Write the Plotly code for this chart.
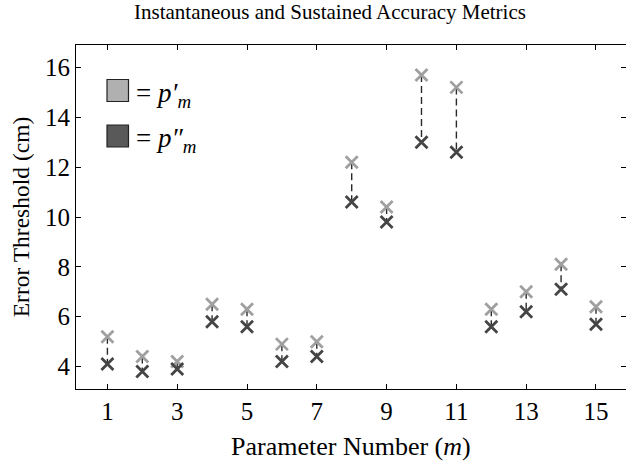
import plotly.graph_objects as go

m = list(range(1, 16))
p_prime = [5.2, 4.4, 4.2, 6.5, 6.3, 4.9, 5.0, 12.2, 10.4, 15.7, 15.2, 6.3, 7.0, 8.1, 6.4]
p_dprime = [4.1, 3.8, 3.9, 5.8, 5.6, 4.2, 4.4, 10.6, 9.8, 13.0, 12.6, 5.6, 6.2, 7.1, 5.7]
x_ticks = [1, 3, 5, 7, 9, 11, 13, 15]
y_ticks = [4, 6, 8, 10, 12, 14, 16]

LIGHT = "#a0a0a0"
DARK = "#454545"
FONT = "Liberation Serif"

# dashed connectors between the two metrics for each parameter
lx, ly = [], []
for xi, a, b in zip(m, p_prime, p_dprime):
    lx += [xi, xi, None]
    ly += [a, b, None]

fig = go.Figure()
fig.add_trace(go.Scatter(x=lx, y=ly, mode="lines",
                         line=dict(color="#2a2a2a", width=1.4, dash="7px,4px"),
                         showlegend=False, hoverinfo="skip"))
fig.add_trace(go.Scatter(x=m, y=p_prime, mode="markers", name="p'm",
                         marker=dict(symbol="x-thin", size=12, line=dict(color=LIGHT, width=2.8)),
                         showlegend=False))
fig.add_trace(go.Scatter(x=m, y=p_dprime, mode="markers", name="p''m",
                         marker=dict(symbol="x-thin", size=12, line=dict(color=DARK, width=2.8)),
                         showlegend=False))

# legend key (drawn as decoration)
L, T = 76, 45
W, H = 550, 461 - 72 - 45
def px(xp):
    return (xp - L) / W
def py(yp):
    return 1 - (yp - T) / H

for (y0, y1, col, txt) in [(79.5, 101.5, "#b0b0b0", "= <i>p′<sub>m</sub></i>"),
                           (125, 147, "#595959", "= <i>p″<sub>m</sub></i>")]:
    fig.add_shape(type="rect", xref="paper", yref="paper",
                  x0=px(107), x1=px(128.5), y0=py(y1), y1=py(y0),
                  fillcolor=col, line=dict(color="#222222", width=1.2))
    fig.add_annotation(xref="paper", yref="paper", x=px(134), y=py((y0 + y1) / 2 + 4),
                       xanchor="left", yanchor="middle", showarrow=False,
                       text=txt, font=dict(family=FONT, size=27, color="black"))

# x-axis title placed as annotation so it can sit right at the bottom edge
fig.add_annotation(xref="paper", yref="paper", x=px(351), y=py(446),
                   xanchor="center", yanchor="middle", showarrow=False,
                   text="Parameter Number (<i>m</i>)",
                   font=dict(family=FONT, size=26, color="black"))

fig.update_layout(
    width=626, height=461,
    margin=dict(l=L, r=0, t=T, b=72),
    paper_bgcolor="white", plot_bgcolor="white",
    font=dict(family=FONT, size=25, color="black"),
    title=dict(text="Instantaneous and Sustained Accuracy Metrics",
               x=330 / 626, xanchor="center", y=1 - 12 / 461, yanchor="middle",
               font=dict(family=FONT, size=21, color="black")),
    showlegend=False,
)
fig.update_xaxes(range=[0.1, 15.86], tickvals=x_ticks, ticks="inside", ticklen=5,
                 tickwidth=1, tickcolor="black", showline=True, linecolor="black",
                 linewidth=1.2, mirror="allticks", showgrid=False, zeroline=False,
                 tickfont=dict(family=FONT, size=25))
fig.update_yaxes(range=[3.1, 16.9], tickvals=y_ticks, ticks="inside", ticklen=5,
                 tickwidth=1, tickcolor="black", showline=True, linecolor="black",
                 linewidth=1.2, mirror="allticks", showgrid=False, zeroline=False,
                 title=dict(text="Error Threshold (cm)", standoff=8,
                            font=dict(family=FONT, size=23.5)),
                 tickfont=dict(family=FONT, size=25))

fig.write_html("out.html")
